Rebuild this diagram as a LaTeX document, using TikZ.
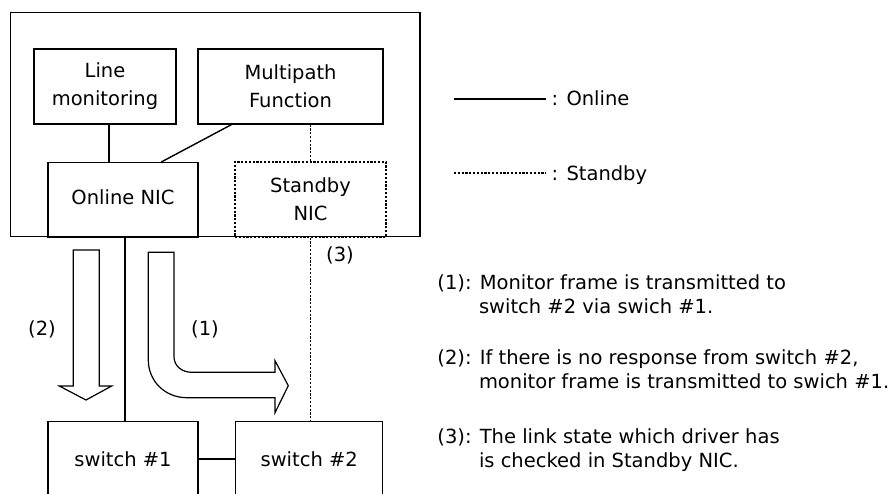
\documentclass[tikz,border=0pt]{standalone}
\usepackage{fontspec}
\setmainfont{DejaVu Sans}
\begin{document}
\begin{tikzpicture}[x=1pt,y=-1pt,line width=1.4pt,
  txt/.style={font=\fontsize{19.5}{28}\selectfont},
  box/.style={draw, txt, minimum width=#1, minimum height=75pt, inner sep=0pt, align=center},
  standby/.style={line width=1.4pt, dash pattern=on 2.2pt off 1.6pt},
  desc/.style={font=\fontsize{19.5}{24}\selectfont, inner sep=0pt, anchor=base west},
  hollow/.style={draw, line width=1.2pt}]
\useasboundingbox (0,0) rectangle (895,494);
\clip (0,0) rectangle (895,494);
\fill[white] (0,0) rectangle (895,494);

% host frame and its components
\node[draw, minimum width=409.3pt, minimum height=224.4pt, inner sep=0pt] (host) at (215.35,124.5) {};
\node[box=142pt] (lm) at (105,86.5) {Line\\monitoring};
\node[box=185pt] (mp) at (290.5,86.5) {Multipath\\Function};
\node[box=150pt, text depth=0pt, text height=14pt, anchor=north] (onic) at (123,162) {\raisebox{3pt}{Online NIC}};
\node[box=151pt, standby] (snic) at (310.5,199.5) {Standby\\NIC};
\node[box=150pt] (sw1) at (123,459.2) {switch \#1};
\node[box=147pt] (sw2) at (309.2,459.2) {switch \#2};

% connectors
\coordinate (lmc) at ([xshift=4pt]lm.south);
\draw (lmc) -- (lmc |- onic.north);
\draw ([xshift=34pt]mp.south west) -- ([xshift=114pt]onic.north west);
\draw[standby] (snic.north |- mp.south) -- (snic.north);
\coordinate (oc) at ([xshift=2pt]onic.south);
\draw (oc) -- (oc |- sw1.north);
\draw[standby] (snic.south) -- (snic.south |- sw2.north);
\draw (sw1.east) -- (sw1.east -| sw2.west);

% hollow arrows
\draw[hollow] (73.3,250) -- (99.3,250) -- (99.3,386) -- (111.7,386) -- (86,400) -- (59.3,386) -- (73.3,386) -- cycle;
\draw[hollow] (148.3,252.3) -- (174,252.3) -- (174,356.7) .. controls (174,366) and (182,372.3) .. (191.7,372.3) -- (275,372.3) -- (275,360.7) -- (288.3,385.7) -- (275,412.7) -- (275,397.7) -- (186.7,397.7) .. controls (165,397.7) and (148.3,381) .. (148.3,360) -- cycle;

% step labels
\node[txt] (l3) at (340,255) {(3)};
\node[txt] (l2) at (42,329) {(2)};
\node[txt] (l1) at (205,329) {(1)};

% legend
\coordinate (ona) at (454,99);
\coordinate (onb) at (545.7,99);
\draw (ona) -- (onb);
\node[desc] (onl) at (551,106) {: Online};
\coordinate (sba) at (454,173);
\coordinate (sbb) at (545.7,173);
\draw[standby] (sba) -- (sbb);
\node[desc] (sbl) at (551,181) {: Standby};

% descriptions
\node[desc] (d1a) at (436.7,290) {(1): Monitor frame is transmitted to};
\node[desc] (d1b) at (478.3,314) {switch \#2 via swich \#1.};
\node[desc] (d2a) at (436.7,365) {(2): If there is no response from switch \#2,};
\node[desc] (d2b) at (478.3,388.3) {monitor frame is transmitted to swich \#1.};
\node[desc] (d3a) at (436.7,444) {(3): The link state which driver has};
\node[desc] (d3b) at (478.3,467.7) {is checked in Standby NIC.};
\end{tikzpicture}
\end{document}
